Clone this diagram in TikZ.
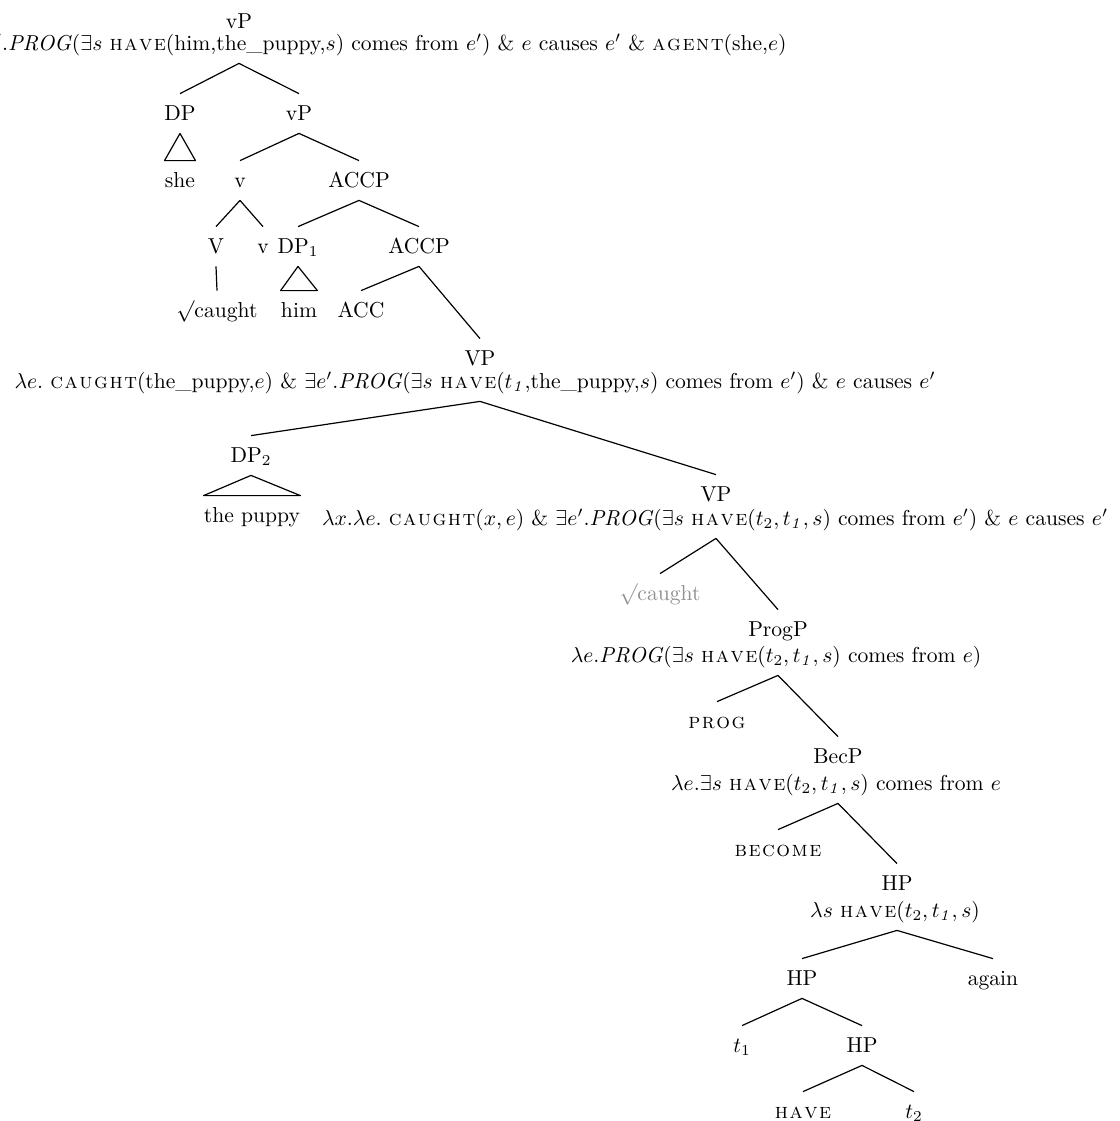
\RequirePackage{fix-cm}
\documentclass[tikz,border=0pt]{standalone}
\usepackage{xcolor}
\definecolor{rootgrey}{RGB}{145,145,145}
\makeatletter
% letter-spaced small capitals
\def\lsp@#1{\ifx#1\relax\else#1\kern0.07em\expandafter\lsp@\fi}
\newcommand\ssc[1]{\textsc{\lsp@#1\relax\unkern}}
\makeatother
\begin{document}
\begin{tikzpicture}[x=0.5pt, y=-0.5pt,
  every node/.style={font=\fontsize{10.8}{13}\selectfont, inner xsep=0pt, inner ysep=4pt,
    text height=0.9em, text depth=0.25em, anchor=base},
  tree/.style={line width=0.6pt, line join=round}]
\useasboundingbox (0,0) rectangle (1120,1121);

% ---- upper part: vP shell ----
\node (vP0) at (239,28) {vP};
\node[anchor=base east] (s0) at (787,50) {$\lambda e.$ \ssc{caught}(the\_puppy,$e$) \& $\exists e'$.\textit{PROG}($\exists s$ \ssc{have}(him,the\_puppy,$s$) comes from $e'$) \& $e$ causes $e'$ \& \ssc{agent}(she,$e$)};

\node (DP)  at (180,120) {DP};
\node (vP1) at (299,120) {vP};
\node (she) at (180,187) {she};
\node (v1)  at (240,187) {v};
\node (ACCP1) at (359,187) {ACCP};
\node (V)   at (216,253) {V};
\node (v2)  at (263,253) {v};
\node (DP1) at (298,253) {DP$_1$};
\node (ACCP2) at (419,253) {ACCP};
\node (caught) at (217,317) {$\surd$caught};
\node (him) at (299,317) {him};
\node (ACC) at (361,317) {ACC};

% ---- VP ----
\node (VP) at (480,365) {VP};
\node (VPs) at (475,388) {$\lambda e.$ \ssc{caught}(the\_puppy,$e$) \& $\exists e'$.\textit{PROG}($\exists s$ \ssc{have}($t_{\mathit{1}}$,the\_puppy,$s$) comes from $e'$) \& $e$ causes $e'$};
\node (DP2) at (251,462) {DP$_2$};
\node (puppy) at (252,522) {the puppy};
\node (VP2) at (716,501) {VP};
\node (VP2s) at (715,525) {$\lambda x.\lambda e.$ \ssc{caught}($x, e$) \& $\exists e'$.\textit{PROG}($\exists s$ \ssc{have}($t_2, t_{\mathit{1}}, s$) comes from $e'$) \& $e$ causes $e'$};
\node[text=rootgrey] (gcaught) at (660,600) {$\surd$caught};

% ---- ProgP / BecP ----
\node (ProgP) at (778,636) {ProgP};
\node (ProgPs) at (776,662) {$\lambda e.$\textit{PROG}($\exists s$ \ssc{have}($t_2, t_{\mathit{1}}, s$) comes from $e$)};
\node (PROG) at (717,728) {\ssc{prog}};
\node (BecP) at (838,763) {BecP};
\node (BecPs) at (836,790) {$\lambda e.\exists s$ \ssc{have}($t_2, t_{\mathit{1}}, s$) comes from $e$};
\node (BECOME) at (778,856) {\ssc{become}};

% ---- HP ----
\node (HP) at (897,890) {HP};
\node (HPs) at (895,917) {$\lambda s$ \ssc{have}($t_2, t_{\mathit{1}}, s$)};
\node (HP2) at (802,985) {HP};
\node (again) at (993,985) {again};
\node (t1) at (742,1052) {$t_1$};
\node (HP3) at (862,1052) {HP};
\node (HAVE) at (803,1118) {\ssc{have}};
\node (t2) at (914,1118) {$t_2$};

% ---- branches ----
\draw[tree] (vP0 |- s0.south) -- (DP.north);
\draw[tree] (vP0 |- s0.south) -- (vP1.north);
\draw[tree] (DP.south) -- (she.north east) -- (she.north west) -- cycle;
\draw[tree] (vP1.south) -- (v1.north);
\draw[tree] (vP1.south) -- (ACCP1.north);
\draw[tree] (v1.south) -- (V.north);
\draw[tree] (v1.south) -- (v2.north);
\draw[tree] (ACCP1.south) -- (DP1.north);
\draw[tree] (ACCP1.south) -- (ACCP2.north);
\draw[tree] (V.south) -- (caught.north);
\draw[tree] (DP1.south) -- (him.north east) -- (him.north west) -- cycle;
\draw[tree] (ACCP2.south) -- (ACC.north);
\draw[tree] (ACCP2.south) -- (VP.north);
\draw[tree] (VP |- VPs.south) -- (DP2.north);
\draw[tree] (VP |- VPs.south) -- (VP2.north);
\draw[tree] (DP2.south) -- (puppy.north east) -- (puppy.north west) -- cycle;
\draw[tree] (VP2 |- VP2s.south) -- (gcaught.north);
\draw[tree] (VP2 |- VP2s.south) -- (ProgP.north);
\draw[tree] (ProgP |- ProgPs.south) -- (PROG.north);
\draw[tree] (ProgP |- ProgPs.south) -- (BecP.north);
\draw[tree] (BecP |- BecPs.south) -- (BECOME.north);
\draw[tree] (BecP |- BecPs.south) -- (HP.north);
\draw[tree] (HP |- HPs.south) -- (HP2.north);
\draw[tree] (HP |- HPs.south) -- (again.north);
\draw[tree] (HP2.south) -- (t1.north);
\draw[tree] (HP2.south) -- (HP3.north);
\draw[tree] (HP3.south) -- (HAVE.north);
\draw[tree] (HP3.south) -- (t2.north);
\end{tikzpicture}
\end{document}
